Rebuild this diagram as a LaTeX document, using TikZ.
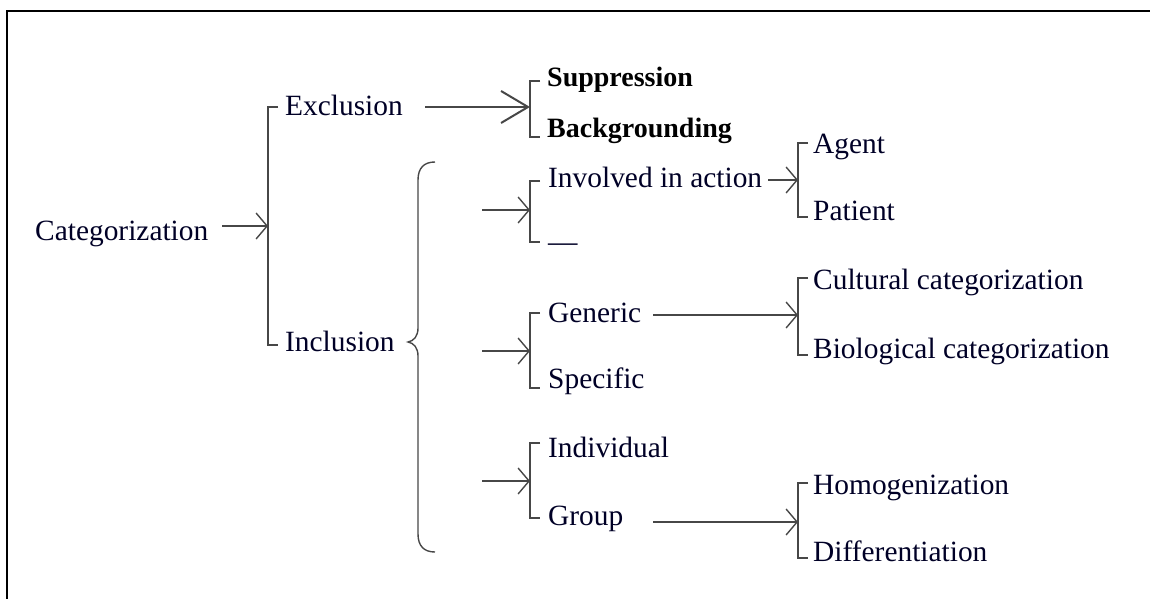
\documentclass[tikz,border=0pt]{standalone}
\usepackage{fontspec}
\setmainfont{Liberation Serif}
\usetikzlibrary{arrows.meta}
\begin{document}
\begin{tikzpicture}[x=1pt,y=-1pt,
  lbl/.style={anchor=base west,inner sep=0pt,font=\fontsize{29.4}{34}\selectfont,text=black!85!blue},
  blbl/.style={anchor=base west,inner sep=0pt,font=\fontsize{28}{34}\selectfont\bfseries,text=black},
  brk/.style={draw=black!72,line width=1.4pt},
  arr/.style={draw=black!72,line width=1.4pt,-{Straight Barb[length=11pt,width=26pt,line width=1.4pt]}},
  bigarr/.style={draw=black!72,line width=2pt,-{Straight Barb[length=27pt,width=32pt,line width=2pt]}}
]
\useasboundingbox (0,0) rectangle (1150,599);
% frame
\draw[line width=2.4pt] (7,600) -- (7,11) -- (1151,11);

% labels
\node[lbl]  (cat) at (35,240)  {Categorization};
\node[lbl]  (exc) at (285,116) {Exclusion};
\node[lbl]  (inc) at (285,351) {Inclusion};
\node[blbl] (sup) at (547,87)  {Suppression};
\node[blbl] (bgr) at (547,137) {Backgrounding};
\node[lbl]  (inv) at (548,187) {Involved in action};
\node[lbl]  (nil) at (548,251) {—};
\node[lbl]  (gen) at (548,322) {Generic};
\node[lbl]  (spe) at (548,388) {Specific};
\node[lbl]  (ind) at (548,457) {Individual};
\node[lbl]  (grp) at (548,525) {Group};
\node[lbl]  (age) at (813,153) {Agent};
\node[lbl]  (pat) at (813,220) {Patient};
\node[lbl]  (cul) at (813,289) {Cultural categorization};
\node[lbl]  (bio) at (813,358) {Biological categorization};
\node[lbl]  (hom) at (813,494) {Homogenization};
\node[lbl]  (dif) at (813,561) {Differentiation};

% brackets
\draw[brk] (278,107) -- (268,107) -- (268,345) -- (278,345);
\draw[brk] (540,81)  -- (530,81)  -- (530,137) -- (540,137);
\draw[brk] (540,181) -- (530,181) -- (530,242) -- (540,242);
\draw[brk] (808,143) -- (798,143) -- (798,217) -- (808,217);
\draw[brk] (540,313) -- (530,313) -- (530,388) -- (540,388);
\draw[brk] (808,278) -- (798,278) -- (798,355) -- (808,355);
\draw[brk] (540,443) -- (530,443) -- (530,518) -- (540,518);
\draw[brk] (808,483) -- (798,483) -- (798,558) -- (808,558);

% brace grouping the inclusion branches
\draw[brk] (435,162) .. controls (424,162) and (418,168) .. (418,180)
  -- (418,328) .. controls (418,336) and (414,341) .. (408,342)
  .. controls (414,343) and (418,348) .. (418,356)
  -- (418,534) .. controls (418,546) and (424,552) .. (435,552);

% arrow ends
\coordinate (catS) at (222,226);  \coordinate (catT) at (268,226);
\coordinate (excS) at (425,107);  \coordinate (excT) at (530,107);
\coordinate (invS) at (482,210);  \coordinate (invT) at (530,210);
\coordinate (actS) at (768,180);  \coordinate (actT) at (798,180);
\coordinate (genS) at (482,351);  \coordinate (genT) at (530,351);
\coordinate (gcS)  at (653,315);  \coordinate (gcT)  at (798,315);
\coordinate (indS) at (482,481);  \coordinate (indT) at (530,481);
\coordinate (grS)  at (653,522);  \coordinate (grT)  at (798,522);

% arrows
\draw[arr] (catS) -- (catT);
\draw[bigarr] (excS) -- (excT);
\draw[arr] (invS) -- (invT);
\draw[arr] (actS) -- (actT);
\draw[arr] (genS) -- (genT);
\draw[arr] (gcS) -- (gcT);
\draw[arr] (indS) -- (indT);
\draw[arr] (grS) -- (grT);
\end{tikzpicture}
\end{document}
